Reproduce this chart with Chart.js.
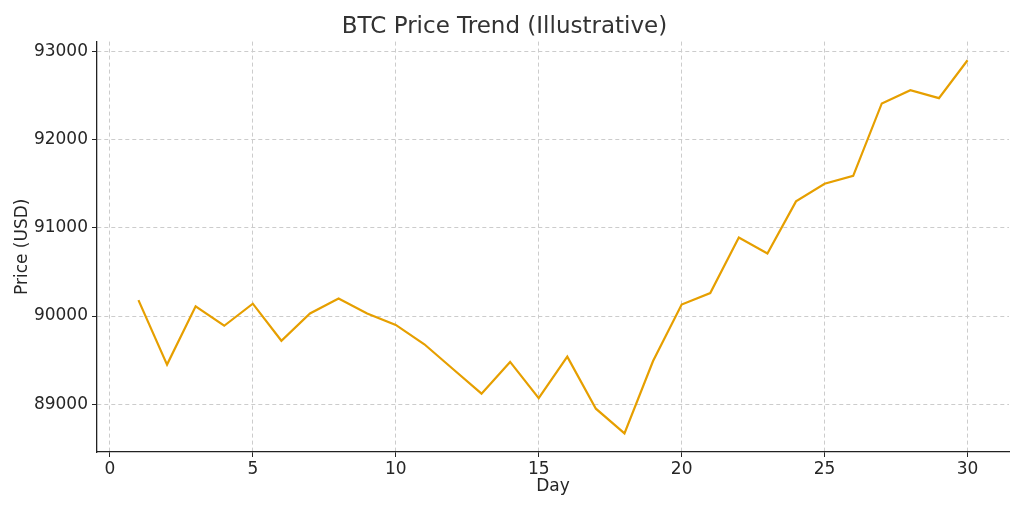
<!DOCTYPE html>
<html>
<head>
<meta charset="utf-8">
<script src="https://cdn.jsdelivr.net/npm/chart.js@4/dist/chart.umd.min.js"></script>
<style>
  html, body { margin: 0; padding: 0; background: #fff; }
  #wrap { width: 1024px; height: 512px; }
</style>
</head>
<body>
<div id="wrap"><canvas id="btcChart"></canvas></div>
<script>
const days = [1, 2, 3, 4, 5, 6, 7, 8, 9, 10, 11, 12, 13, 14, 15,
              16, 17, 18, 19, 20, 21, 22, 23, 24, 25, 26, 27, 28, 29, 30];
const prices = [90180, 89450, 90110, 89890, 90140, 89720, 90030, 90200, 90030, 89900,
                89680, 89400, 89120, 89480, 89070, 89540, 88950, 88670, 89490, 90130,
                90260, 90890, 90710, 91300, 91500, 91590, 92410, 92560, 92470, 92900];
const xTicks = [0, 5, 10, 15, 20, 25, 30];
const yTicks = [89000, 90000, 91000, 92000, 93000];

const font = 'DejaVu Sans';
const textColor = '#262626';
const gridColor = '#cccccc';

Chart.defaults.font.family = font;
Chart.defaults.color = textColor;

var ctx = document.getElementById('btcChart').getContext('2d');

new Chart(ctx, {
    type: 'line',
    data: {
        datasets: [{
            label: 'BTC',
            data: days.map((d, i) => ({ x: d, y: prices[i] })),
            borderColor: '#E69F00',
            borderWidth: 2.2,
            pointRadius: 0,
            fill: false,
            tension: 0
        }]
    },
    options: {
        responsive: true,
        maintainAspectRatio: false,
        animation: false,
        layout: {
            padding: { top: 0, right: 15, bottom: 0, left: 0 }
        },
        plugins: {
            legend: { display: false },
            tooltip: { enabled: false },
            title: {
                display: true,
                text: 'BTC Price Trend (Illustrative)',
                color: '#333333',
                font: { size: 23, weight: 'normal' },
                padding: { top: 13, bottom: 1 }
            }
        },
        scales: {
            x: {
                type: 'linear',
                min: -0.45,
                max: 31.45,
                afterBuildTicks: (scale) => {
                    scale.ticks = xTicks.map(v => ({ value: v }));
                },
                afterFit: (scale) => { scale.height = 60; },
                ticks: {
                    font: { size: 17 },
                    color: textColor,
                    padding: 2,
                    maxRotation: 0
                },
                grid: {
                    color: gridColor,
                    tickColor: textColor,
                    tickLength: 5,
                    lineWidth: 1
                },
                border: { display: true, color: '#222222', width: 1.3, dash: [4, 3] },
                title: {
                    display: true,
                    text: 'Day',
                    font: { size: 17 },
                    color: textColor,
                    padding: { top: 0, bottom: 15 }
                }
            },
            y: {
                type: 'linear',
                min: 88459,
                max: 93111,
                afterBuildTicks: (scale) => {
                    scale.ticks = yTicks.map(v => ({ value: v }));
                },
                afterFit: (scale) => { scale.width = 97; },
                ticks: {
                    font: { size: 17 },
                    color: textColor,
                    padding: 4,
                    callback: (v) => String(v)
                },
                grid: {
                    color: gridColor,
                    tickColor: textColor,
                    tickLength: 5,
                    lineWidth: 1
                },
                border: { display: true, color: '#222222', width: 1.3, dash: [4, 3] },
                title: {
                    display: true,
                    text: 'Price (USD)',
                    font: { size: 17 },
                    color: textColor,
                    padding: { top: 12, bottom: 0 }
                }
            }
        }
    }
});
</script>
</body>
</html>
